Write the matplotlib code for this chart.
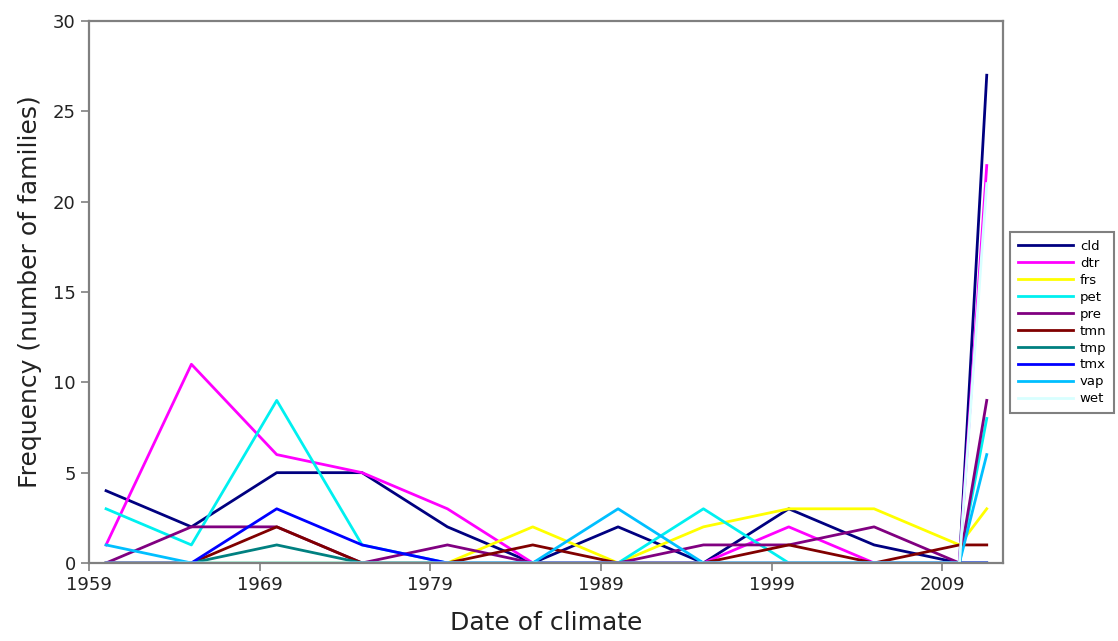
import numpy as np
import matplotlib
matplotlib.use("Agg")
import matplotlib.pyplot as plt

# sampling dates (year of climate)
years = [1960, 1965, 1970, 1975, 1980, 1985, 1990, 1995, 2000, 2005, 2010, 2011.6]

cld = [4, 2, 5, 5, 2, 0, 2, 0, 3, 1, 0, 27]
dtr = [1, 11, 6, 5, 3, 0, 0, 0, 2, 0, 0, 22]
frs = [0, 0, 0, 0, 0, 2, 0, 2, 3, 3, 1, 3]
pet = [3, 1, 9, 1, 0, 0, 0, 3, 0, 0, 0, 8]
pre = [0, 2, 2, 0, 1, 0, 0, 1, 1, 2, 0, 9]
tmn = [0, 0, 2, 0, 0, 1, 0, 0, 1, 0, 1, 1]
tmp = [0, 0, 1, 0, 0, 0, 0, 0, 0, 0, 0, 0]
tmx = [0, 0, 3, 1, 0, 0, 0, 0, 0, 0, 0, 0]
vap = [1, 0, 0, 0, 0, 0, 3, 0, 0, 0, 0, 6]
wet = [0, 0, 0, 0, 0, 0, 0, 0, 0, 0, 0, 21]

series = [
    ("cld", cld, "#000080"),
    ("dtr", dtr, "#ff00ff"),
    ("frs", frs, "#ffff00"),
    ("pet", pet, "#00f0f0"),
    ("pre", pre, "#800080"),
    ("tmn", tmn, "#800000"),
    ("tmp", tmp, "#008080"),
    ("tmx", tmx, "#0000ff"),
    ("vap", vap, "#00bfff"),
    ("wet", wet, "#d8ffff"),
]

fig = plt.figure(figsize=(11.18, 6.41), dpi=100)
ax = fig.add_axes([0.0796, 0.1217, 0.8175, 0.8455])

for name, vals, col in series:
    ax.plot(years, vals, color=col, lw=2.0, label=name)

ax.set_xlim(1959, 2012.55)
ax.set_ylim(0, 30)
ax.set_xticks([1959, 1969, 1979, 1989, 1999, 2009])
ax.set_yticks([0, 5, 10, 15, 20, 25, 30])

for sp in ax.spines.values():
    sp.set_color("#808080")
    sp.set_linewidth(1.6)
ax.tick_params(axis="both", colors="#808080", labelcolor="#222222", labelsize=13,
               length=6, width=1.2, direction="out", top=False, right=False)

ax.set_xlabel("Date of climate", fontsize=18, color="#222222", labelpad=12)
ax.set_ylabel("Frequency (number of families)", fontsize=18, color="#222222", labelpad=8)

leg = ax.legend(loc="upper left", bbox_to_anchor=(1.0077, 0.611), fontsize=9.5,
                handlelength=4.2, handletextpad=0.5, labelspacing=0.3,
                borderpad=0.6, borderaxespad=0, fancybox=False, framealpha=1)
leg.get_frame().set_edgecolor("#808080")
leg.get_frame().set_linewidth(1.5)

fig.savefig("out.png", dpi=100)
